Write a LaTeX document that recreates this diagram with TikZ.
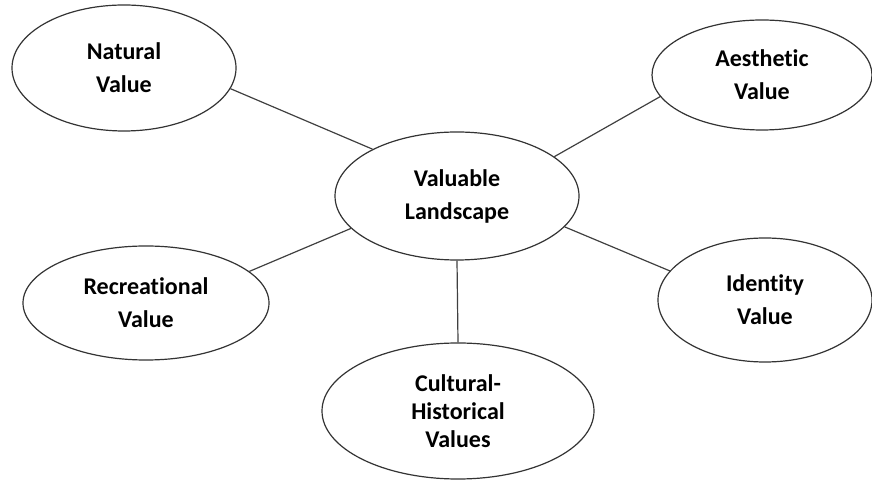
\documentclass[tikz,border=0pt]{standalone}
\usepackage{fontspec}
\setmainfont{Carlito}[Ligatures=NoCommon]
\usetikzlibrary{shapes.geometric}
\tikzset{
  valueball/.style={draw=black!80,line width=1.2pt,ellipse,inner sep=0pt,align=center,
    font=\fontsize{24}{33}\selectfont\bfseries},
  spoke/.style={draw=black!75,line width=1.2pt}
}
\begin{document}
\begin{tikzpicture}[x=1pt,y=1pt]
        \useasboundingbox (0,0) rectangle (872,481);

        % centre
        \node[valueball,minimum width=244,minimum height=128] (val) at (457,285) {Valuable\\Landscape};

        % values round it
        \node[valueball,minimum width=224,minimum height=126] (nat) at (124,413) {Natural\\Value};
        \node[valueball,minimum width=220,minimum height=110] (aes) at (762,406) {Aesthetic\\Value};
        \node[valueball,minimum width=246,minimum height=114] (rec) at (146,178) {Recreational\\Value};
        \node[valueball,minimum width=214,minimum height=124] (ide) at (765,181) {Identity\\Value};
        \node[valueball,minimum width=272,minimum height=136,
          font=\fontsize{24}{28}\selectfont\bfseries] (cul) at (458,70) {Cultural-\\Historical\\Values};

        % spokes
        \draw[spoke] (nat.-11) -- (val.151);
        \draw[spoke] (aes.192) -- (val.22);
        \draw[spoke] (val.197) -- (rec.17);
        \draw[spoke] (val.-16) -- (ide.163);
        \draw[spoke] (val.south) -- (cul.north);
\end{tikzpicture}
\end{document}
